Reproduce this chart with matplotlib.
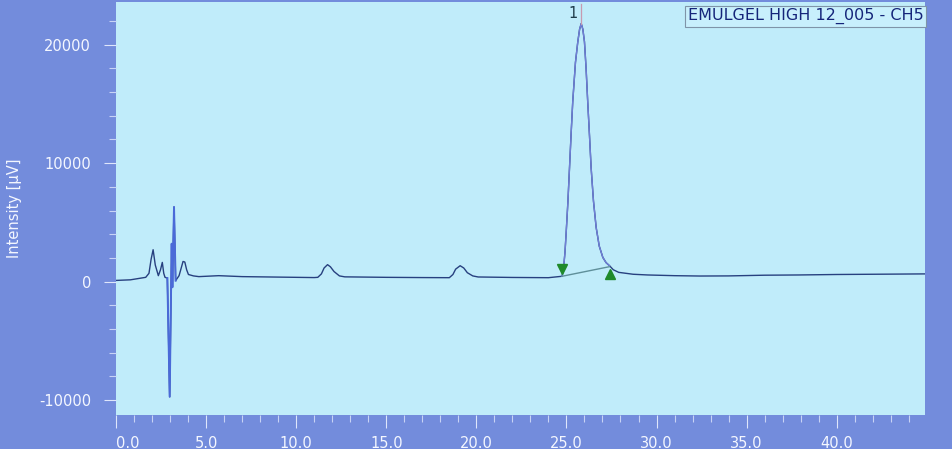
import matplotlib.pyplot as plt
from matplotlib.ticker import MultipleLocator

plt.rcParams['axes.unicode_minus'] = False

# chromatogram trace (time in min, intensity in uV)
time_min = [0.0, 0.8, 1.65, 1.83, 1.95, 2.06, 2.18, 2.35, 2.47, 2.57, 2.65, 2.72, 2.85,
            2.98, 3.09, 3.13, 3.22, 3.31, 3.5, 3.62, 3.72, 3.82, 3.92, 4.02, 4.3, 4.6,
            5.7, 7.0, 9.0, 11.0, 11.2, 11.4, 11.55, 11.74, 11.9, 12.1, 12.4, 12.7,
            15.0, 17.0, 18.5, 18.7, 18.85, 19.1, 19.3, 19.5, 19.8, 20.1, 22.0, 24.0,
            24.76, 24.85, 24.92, 24.98, 25.08, 25.17, 25.26, 25.35, 25.5, 25.63, 25.73,
            25.82, 25.91, 26.0, 26.09, 26.18, 26.28, 26.37, 26.5, 26.65, 26.82, 27.02,
            27.2, 27.39, 27.6, 27.9, 28.7, 29.5, 31.0, 32.4, 34.0, 36.0, 37.9, 40.0,
            42.0, 44.9]
intensity_uv = [100, 150, 360, 700, 1900, 2690, 1400, 500, 1000, 1620, 700, 360, 300,
                -9720, 3200, -480, 6300, 80, 500, 1150, 1700, 1650, 1000, 600, 480, 420,
                500, 420, 380, 340, 360, 650, 1150, 1430, 1250, 850, 480, 400,
                360, 340, 330, 600, 1050, 1340, 1150, 750, 480, 390, 350, 330,
                450, 1300, 2500, 4000, 6700, 9600, 12500, 15200, 18500, 20240, 21300,
                21780, 21300, 20240, 18000, 15200, 12300, 9600, 6800, 4560, 3000, 2040,
                1600, 1340, 1000, 780, 620, 560, 500, 470, 480, 540, 560, 600,
                620, 650]

x_ticks = [0, 5, 10, 15, 20, 25, 30, 35, 40]
x_tick_labels = ['0.0', '5.0', '10.0', '15.0', '20.0', '25.0', '30.0', '35.0', '40.0']

# integrated peak: start/end and apex
peak_start = (24.76, 450)
peak_end = (27.39, 1260)
peak_apex = (25.82, 21780)
peak_label = '1'
legend_text = 'EMULGEL HIGH 12_005 - CH5'

fig_bg = '#738cdc'
ax_bg = '#c0ecfa'
trace_col = '#27407f'
peak_col = '#6f7fd6'

fig = plt.figure(figsize=(9.53, 4.49), dpi=100, facecolor=fig_bg)
ax = fig.add_axes([116 / 953, 1 - 415 / 449, (925 - 116) / 953, 413 / 449])
ax.set_facecolor(ax_bg)

ax.plot(time_min, intensity_uv, color=trace_col, lw=1.0, zorder=3)

# spike region drawn brighter
i0 = time_min.index(2.85)
i1 = time_min.index(3.31)
ax.plot(time_min[i0:i1 + 1], intensity_uv[i0:i1 + 1], color='#4a6ad8', lw=1.4, zorder=4)

# main peak in lighter colour
j0 = time_min.index(peak_start[0])
j1 = time_min.index(peak_end[0])
ax.plot(time_min[j0:j1 + 1], intensity_uv[j0:j1 + 1], color=peak_col, lw=1.0, zorder=4)

# integration baseline and markers
ax.plot([peak_start[0], peak_end[0]], [peak_start[1], peak_end[1]], color='#5f8f9a', lw=1.0, zorder=4)
ax.plot(peak_start[0], peak_start[1] + 600, marker='v', color='#1f8a2a', ms=7, zorder=5)
ax.plot(peak_end[0], peak_end[1] - 650, marker='^', color='#1f8a2a', ms=7, zorder=5)

# apex marker and label
ax.plot([peak_apex[0], peak_apex[0]], [peak_apex[1], 23400], color='#c79ab0', lw=0.9, zorder=5)
ax.text(peak_apex[0] - 0.2, 22600, peak_label, color='#1f3c4a', fontsize=10.5,
        ha='right', va='center')

ax.set_xlim(0, 44.9)
ax.set_ylim(-11260, 23600)

ax.set_xticks(x_ticks)
labels = ax.set_xticklabels(x_tick_labels)
labels[0].set_horizontalalignment('left')  # first label sits right of its tick
ax.xaxis.set_minor_locator(MultipleLocator(1))
ax.yaxis.set_major_locator(MultipleLocator(10000))
ax.yaxis.set_minor_locator(MultipleLocator(2000))

ax.tick_params(axis='both', which='major', colors='#dfe6fb', labelcolor='#f4f7ff',
               labelsize=10.5, length=9, width=0.8)
ax.tick_params(axis='both', which='minor', colors='#c8d3f5', length=5, width=0.8)
ax.tick_params(axis='x', which='major', pad=6)
ax.tick_params(axis='y', which='major', pad=9)

for s in ax.spines.values():
    s.set_visible(False)

ax.set_ylabel('Intensity [µV]', color='#f4f7ff', fontsize=10.5, labelpad=12)

ax.text(0.998, 0.985, legend_text, transform=ax.transAxes, ha='right', va='top',
        fontsize=11.5, color='#15257a',
        bbox=dict(boxstyle='square,pad=0.15', facecolor='#c8effc', edgecolor='#7f94a8', lw=0.8))

fig.savefig('out.png', dpi=100, facecolor=fig_bg)
